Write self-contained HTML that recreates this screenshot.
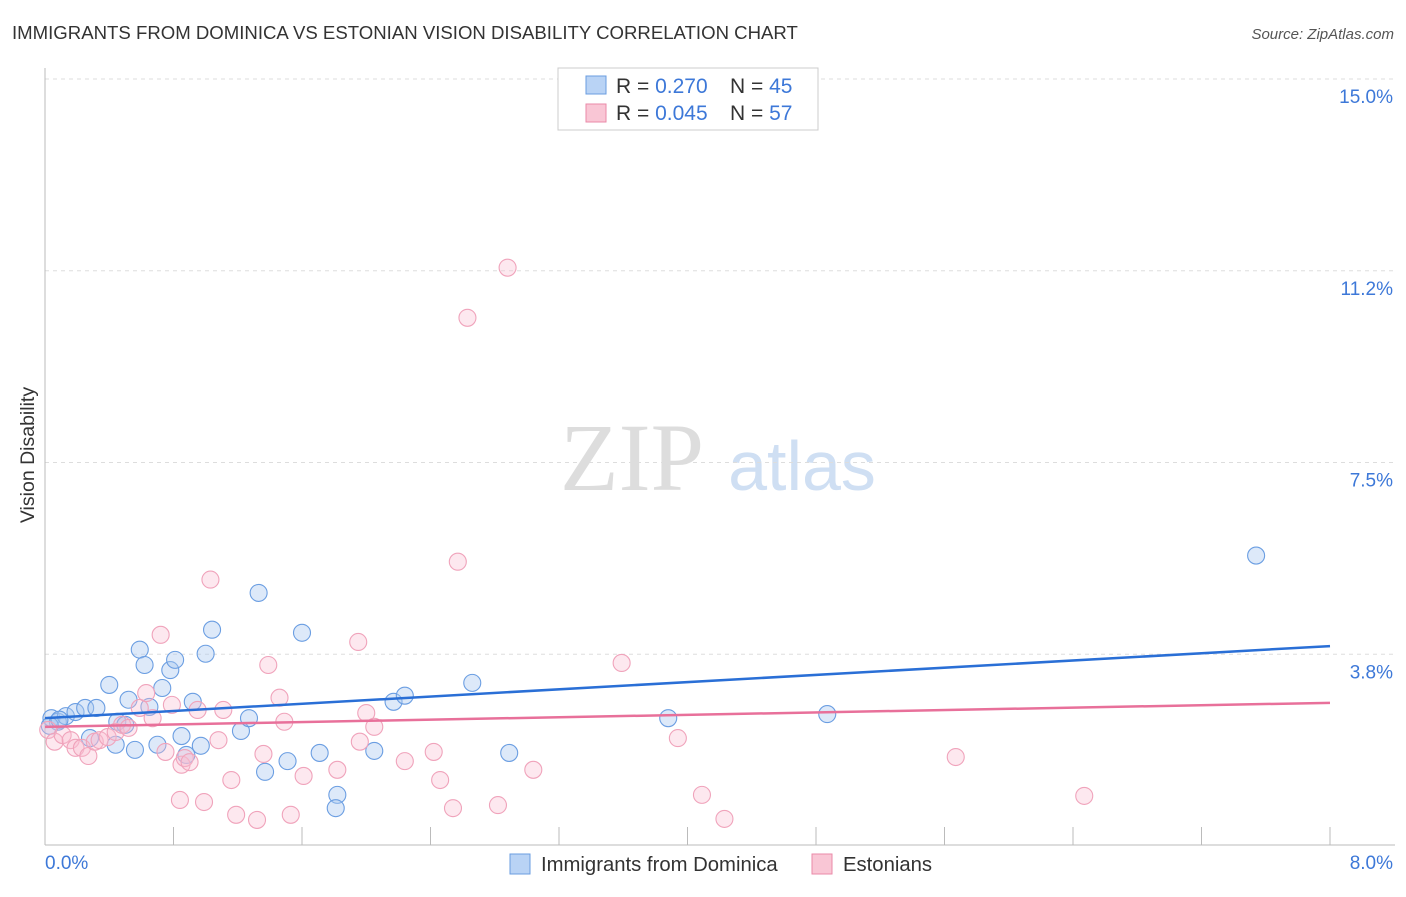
<!DOCTYPE html>
<html><head><meta charset="utf-8"><style>
body{margin:0;background:#fff;font-family:"Liberation Sans",sans-serif}
</style></head><body>
<svg width="1406" height="892" xmlns="http://www.w3.org/2000/svg" font-family="Liberation Sans, sans-serif">
<text x="12" y="39" font-size="18.6" fill="#333">IMMIGRANTS FROM DOMINICA VS ESTONIAN VISION DISABILITY CORRELATION CHART</text>
<text x="1394" y="39" font-size="15" fill="#555" font-style="italic" text-anchor="end">Source: ZipAtlas.com</text>
<g>
<text x="632" y="490" font-size="96" fill="#ddd" font-family="Liberation Serif, serif" text-anchor="middle">ZIP</text>
<text x="802" y="490" font-size="70" fill="#cfdff3" text-anchor="middle">atlas</text>
</g>
<g id="grid"></g>
<g id="axes"></g>
<g id="marks"></g>
<text transform="translate(34,455) rotate(-90)" font-size="19.5" fill="#333" text-anchor="middle">Vision Disability</text>
<text x="45" y="869" font-size="19" fill="#3d78d8">0.0%</text>
<text x="1393" y="869" font-size="19" fill="#3d78d8" text-anchor="end">8.0%</text>
<g>
<rect x="558" y="68" width="260" height="62" fill="#fff" stroke="#ccc"/>
<rect x="586" y="76" width="20" height="18" fill="#b9d3f5" stroke="#6a9de0"/>
<rect x="586" y="104" width="20" height="18" fill="#f9c6d5" stroke="#ea8aa8"/>
<text x="616" y="93" font-size="21" fill="#333">R = <tspan fill="#3d78d8">0.270</tspan></text>
<text x="730" y="93" font-size="21" fill="#333">N = <tspan fill="#3d78d8">45</tspan></text>
<text x="616" y="120" font-size="21" fill="#333">R = <tspan fill="#3d78d8">0.045</tspan></text>
<text x="730" y="120" font-size="21" fill="#333">N = <tspan fill="#3d78d8">57</tspan></text>
</g>
<g>
<rect x="510" y="854" width="20" height="20" fill="#b9d3f5" stroke="#6a9de0"/>
<text x="541" y="871" font-size="20.3" fill="#333">Immigrants from Dominica</text>
<rect x="812" y="854" width="20" height="20" fill="#f9c6d5" stroke="#ea8aa8"/>
<text x="843" y="871" font-size="20.3" fill="#333">Estonians</text>
</g>
</svg>
<script>
const yTicks=[3.75,7.5,11.25,15];
const yTickLabels=["3.8%","7.5%","11.2%","15.0%"];
const xTicks=[0,0.8,1.6,2.4,3.2,4.0,4.8,5.6,6.4,7.2,8.0];
const blueX=[0.04,0.08,0.13,0.19,0.25,0.32,0.40,0.45,0.44,0.52,0.56,0.59,0.62,0.65,0.70,0.73,0.78,0.81,0.85,0.88,0.92,0.97,1.00,1.04,1.22,1.27,1.33,1.37,1.51,1.60,1.71,1.82,1.81,2.05,2.17,2.24,2.66,2.89,3.88,4.87,7.54,0.03,0.28,0.50,0.09];
const blueY=[2.50,2.43,2.54,2.62,2.70,2.70,3.15,2.43,1.98,2.86,1.88,3.84,3.54,2.72,1.98,3.09,3.44,3.64,2.15,1.78,2.82,1.96,3.76,4.23,2.25,2.50,4.95,1.45,1.66,4.17,1.82,1.00,0.74,1.86,2.82,2.94,3.19,1.82,2.50,2.58,5.68,2.35,2.11,2.37,2.47];
const pinkX=[0.02,0.06,0.11,0.16,0.19,0.23,0.27,0.31,0.34,0.39,0.44,0.48,0.52,0.59,0.63,0.67,0.72,0.75,0.79,0.85,0.87,0.90,0.84,0.95,0.99,1.03,1.08,1.11,1.16,1.19,1.32,1.36,1.39,1.46,1.49,1.53,1.61,1.82,1.95,1.96,2.00,2.05,2.24,2.42,2.46,2.54,2.57,2.63,2.82,2.88,3.04,3.59,3.94,4.09,4.23,5.67,6.47];
const pinkY=[2.27,2.04,2.17,2.07,1.92,1.92,1.76,2.04,2.07,2.13,2.23,2.37,2.31,2.70,2.99,2.50,4.13,1.84,2.76,1.59,1.72,1.64,0.90,2.66,0.86,5.21,2.07,2.66,1.29,0.61,0.51,1.80,3.54,2.90,2.43,0.61,1.37,1.49,3.99,2.04,2.60,2.33,1.66,1.84,1.29,0.74,5.56,10.33,0.80,11.31,1.49,3.58,2.11,1.00,0.53,1.74,0.98];
const blueTrend=[2.50,3.91];
const pinkTrend=[2.33,2.80];
const X0=45,X1=1330,Y0=846,Y15=79;
const sx=v=>X0+(X1-X0)*v/8;
const sy=v=>Y0-(Y0-Y15)*v/15;
const NS="http://www.w3.org/2000/svg";
function mk(tag,attrs,parent){const e=document.createElementNS(NS,tag);for(const k in attrs)e.setAttribute(k,attrs[k]);document.getElementById(parent).appendChild(e);return e;}
yTicks.forEach((t,i)=>{
 const l=mk('line',{x1:45,x2:1395,y1:sy(t),y2:sy(t),stroke:'#ddd','stroke-dasharray':'4,4'},'grid');
 
 
 const tx=mk('text',{x:1393,y:sy(t)+24,'font-size':19,fill:'#3d78d8','text-anchor':'end'},'grid');
 tx.textContent=yTickLabels[i];
 
 
});
const ya=mk('line',{x1:45,x2:45,y1:68,y2:845,stroke:'#bbb'},'axes');


const xa=mk('line',{x1:45,x2:1395,y1:845,y2:845,stroke:'#bbb'},'axes');


xTicks.forEach(t=>{
 const l=mk('line',{x1:sx(t),x2:sx(t),y1:827,y2:845,stroke:'#bbb'},'axes');
 
 
});
blueX.forEach((v,i)=>{
 const c=mk('circle',{cx:sx(v),cy:sy(blueY[i]),r:8.5,fill:'rgba(170,200,240,0.4)',stroke:'#6b9ee2','stroke-width':1.1},'marks');
 
 
});
pinkX.forEach((v,i)=>{
 const c=mk('circle',{cx:sx(v),cy:sy(pinkY[i]),r:8.5,fill:'rgba(248,190,208,0.35)',stroke:'#f0a3bb','stroke-width':1.1},'marks');
 
 
});
const bt=mk('line',{x1:sx(0),x2:sx(8),y1:sy(blueTrend[0]),y2:sy(blueTrend[1]),stroke:'#2a6fd6','stroke-width':2.5},'marks');


const pt=mk('line',{x1:sx(0),x2:sx(8),y1:sy(pinkTrend[0]),y2:sy(pinkTrend[1]),stroke:'#e8709a','stroke-width':2.5},'marks');


</script>
</body></html>
